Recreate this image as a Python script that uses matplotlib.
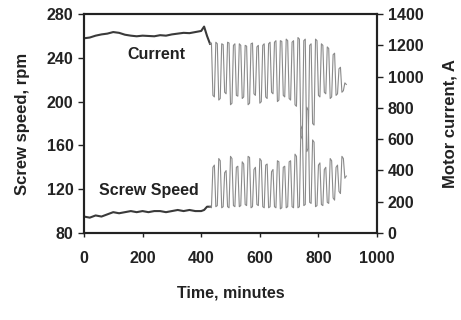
import matplotlib
matplotlib.use("Agg")
import matplotlib.pyplot as plt

plt.rcParams['font.family'] = ['Liberation Sans', 'DejaVu Sans']
plt.rcParams['font.weight'] = 'bold'
plt.rcParams['axes.labelweight'] = 'bold'

# steady running, up to ~430 min
t_steady = [0, 20, 40, 60, 80, 100, 120, 140, 160, 180, 200, 220, 240, 260,
            280, 300, 320, 340, 360, 380, 400, 410, 420, 430]
current_steady = [1245, 1250, 1262, 1270, 1275, 1285, 1280, 1268, 1262, 1258,
                  1262, 1260, 1258, 1265, 1262, 1270, 1275, 1280, 1278, 1285,
                  1292, 1320, 1260, 1210]
speed_steady = [95, 94, 96, 95, 97, 99, 98, 99, 100, 99, 100, 99, 100, 100,
                99, 100, 101, 100, 101, 100, 100, 101, 104, 104]

# cycling part, 430-895 min, every 5 min
t_cycle = list(range(430, 900, 5))
current_cycle = [1210, 1215, 880, 870, 1220, 1210, 850, 860, 1210, 1205,
                 900, 890, 1220, 1215, 820, 830, 1200, 1210, 880, 875,
                 1210, 1200, 860, 870, 1200, 1195, 820, 830, 1210, 1215,
                 890, 880, 1190, 1200, 830, 840, 1200, 1210, 870, 860,
                 1210, 1220, 900, 890, 1220, 1230, 840, 850, 1230, 1225,
                 880, 870, 1240, 1230, 860, 850, 1220, 1230, 820, 810,
                 1250, 1240, 620, 600, 1230, 1240, 520, 540, 1200, 1210,
                 700, 690, 1240, 1230, 880, 870, 1210, 1200, 900, 890,
                 1190, 1180, 860, 870, 1140, 1150, 880, 890, 1050, 1060,
                 900, 910, 960, 950]
speed_cycle = [104, 103, 140, 142, 104, 105, 148, 146, 103, 104,
               135, 137, 104, 103, 150, 148, 105, 104, 140, 141,
               104, 105, 145, 143, 106, 105, 150, 149, 103, 104,
               138, 140, 106, 105, 148, 146, 104, 103, 142, 143,
               103, 104, 136, 138, 104, 103, 146, 145, 102, 103,
               140, 141, 103, 104, 145, 146, 104, 103, 152, 150,
               103, 104, 175, 178, 105, 106, 195, 192, 108, 107,
               165, 163, 104, 105, 142, 144, 106, 105, 138, 140,
               108, 107, 148, 146, 112, 110, 140, 142, 118, 116,
               150, 148, 130, 132]

fig = plt.figure(figsize=(4.61, 3.2), dpi=100)
ax = fig.add_axes([0.182, 0.272, 0.636, 0.684])
ax2 = ax.twinx()

ax.plot(t_steady, speed_steady, color='#3a3a3a', lw=1.5)
ax.plot(t_cycle, speed_cycle, color='#8a8a8a', lw=0.8)
ax2.plot(t_steady, current_steady, color='#3a3a3a', lw=1.5)
ax2.plot(t_cycle, current_cycle, color='#8a8a8a', lw=0.8)

ax.set_xlim(0, 1000)
ax.set_ylim(80, 280)
ax2.set_ylim(0, 1400)
ax.set_xticks([0, 200, 400, 600, 800, 1000])
ax.set_yticks([80, 120, 160, 200, 240, 280])
ax2.set_yticks([0, 200, 400, 600, 800, 1000, 1200, 1400])

for a in (ax, ax2):
    a.tick_params(labelsize=11.5, width=1, length=4, colors='#222222')
    for s in a.spines.values():
        s.set_linewidth(1.5)
        s.set_color('#222222')
ax.tick_params(axis='x', pad=10, length=3)

ax.text(246, 243, 'Current', fontsize=11.5, ha='center', va='center', color='#222222')
ax.text(222, 119, 'Screw Speed', fontsize=11.5, ha='center', va='center', color='#222222')

ax.set_xlabel('Time, minutes', fontsize=11.5, fontweight='bold', labelpad=14, color='#222222')
ax.set_ylabel('Screw speed, rpm', fontsize=12, fontweight='bold', labelpad=12, color='#222222')
ax2.set_ylabel('Motor current, A', fontsize=12, fontweight='bold', labelpad=14, color='#222222')

fig.savefig('out.png', dpi=100)
